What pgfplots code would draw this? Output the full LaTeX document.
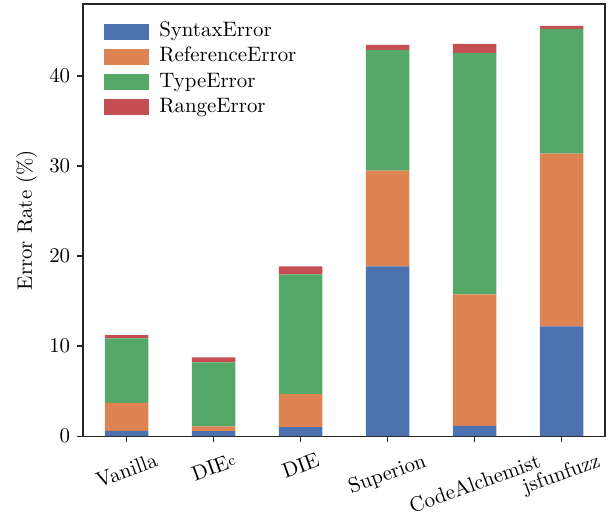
\documentclass[border=0pt]{standalone}
\usepackage{pgfplots}
\pgfplotsset{compat=1.18}
\usepackage{graphicx}

\definecolor{sbblue}{RGB}{76,114,176}
\definecolor{sborange}{RGB}{221,132,82}
\definecolor{sbgreen}{RGB}{85,168,104}
\definecolor{sbred}{RGB}{196,78,82}
\definecolor{framegray}{RGB}{38,38,38}

\pgfplotstableread{
x syntax reference type range
0 0.59 3.10 7.17 0.37
1 0.55 0.55 7.10 0.56
2 1.00 3.66 13.30 0.89
3 18.85 10.65 13.40 0.56
4 1.14 14.60 26.83 1.00
5 12.20 19.17 13.86 0.34
}\errdata

\begin{document}
\begin{tikzpicture}
\begin{axis}[
	scale only axis,
	width=250pt,
	height=207pt,
	ybar stacked,
	bar width=0.5,
	xmin=-0.5, xmax=5.5,
	ymin=0, ymax=48,
	xtick=data,
	xticklabels={
		\rotatebox{20}{Vanilla},
		\rotatebox{20}{DIE\raisebox{1pt}{\scriptsize c}},
		\rotatebox{20}{DIE},
		\rotatebox{20}{Superion},
		\rotatebox{20}{CodeAlchemist},
		\rotatebox{20}{jsfunfuzz}},
	xticklabel style={anchor=north, inner sep=1pt, yshift=-3.6pt},
	ytick={0,10,20,30,40},
	yticklabel style={inner sep=1pt, xshift=-2pt},
	ylabel={Error Rate (\%)},
	every axis y label/.style={at={(axis description cs:0,0.5)}, anchor=center,
		rotate=90, yshift=27pt},
	tick align=outside,
	major tick length=3pt,
	xtick pos=bottom,
	ytick pos=left,
	axis line style={framegray, line width=0.6pt},
	tick style={framegray, line width=0.6pt},
	legend style={at={(axis description cs:0,1)}, anchor=north west,
		xshift=7pt, yshift=-5pt, draw=none, fill=none,
		row sep=0pt, font=\normalsize,
		nodes={text height=6.9pt, text depth=2.2pt, inner ysep=1.5pt}},
	legend cell align=left,
	legend image code/.code={
		\fill (0pt,-3.8pt) rectangle (21.5pt,3.8pt);
		\path (24.3pt,0pt);},
]
\addplot[fill=sbblue, draw=none] table[x=x, y=syntax] {\errdata};
\addplot[fill=sborange, draw=none] table[x=x, y=reference] {\errdata};
\addplot[fill=sbgreen, draw=none] table[x=x, y=type] {\errdata};
\addplot[fill=sbred, draw=none] table[x=x, y=range] {\errdata};
\legend{SyntaxError, ReferenceError, TypeError, RangeError}
\end{axis}
\pgfresetboundingbox
\path[use as bounding box]
	([xshift=-39.8pt, yshift=-37pt]current axis.south west) rectangle
	([xshift=3.8pt, yshift=1.9pt]current axis.north east);
\end{tikzpicture}
\end{document}
